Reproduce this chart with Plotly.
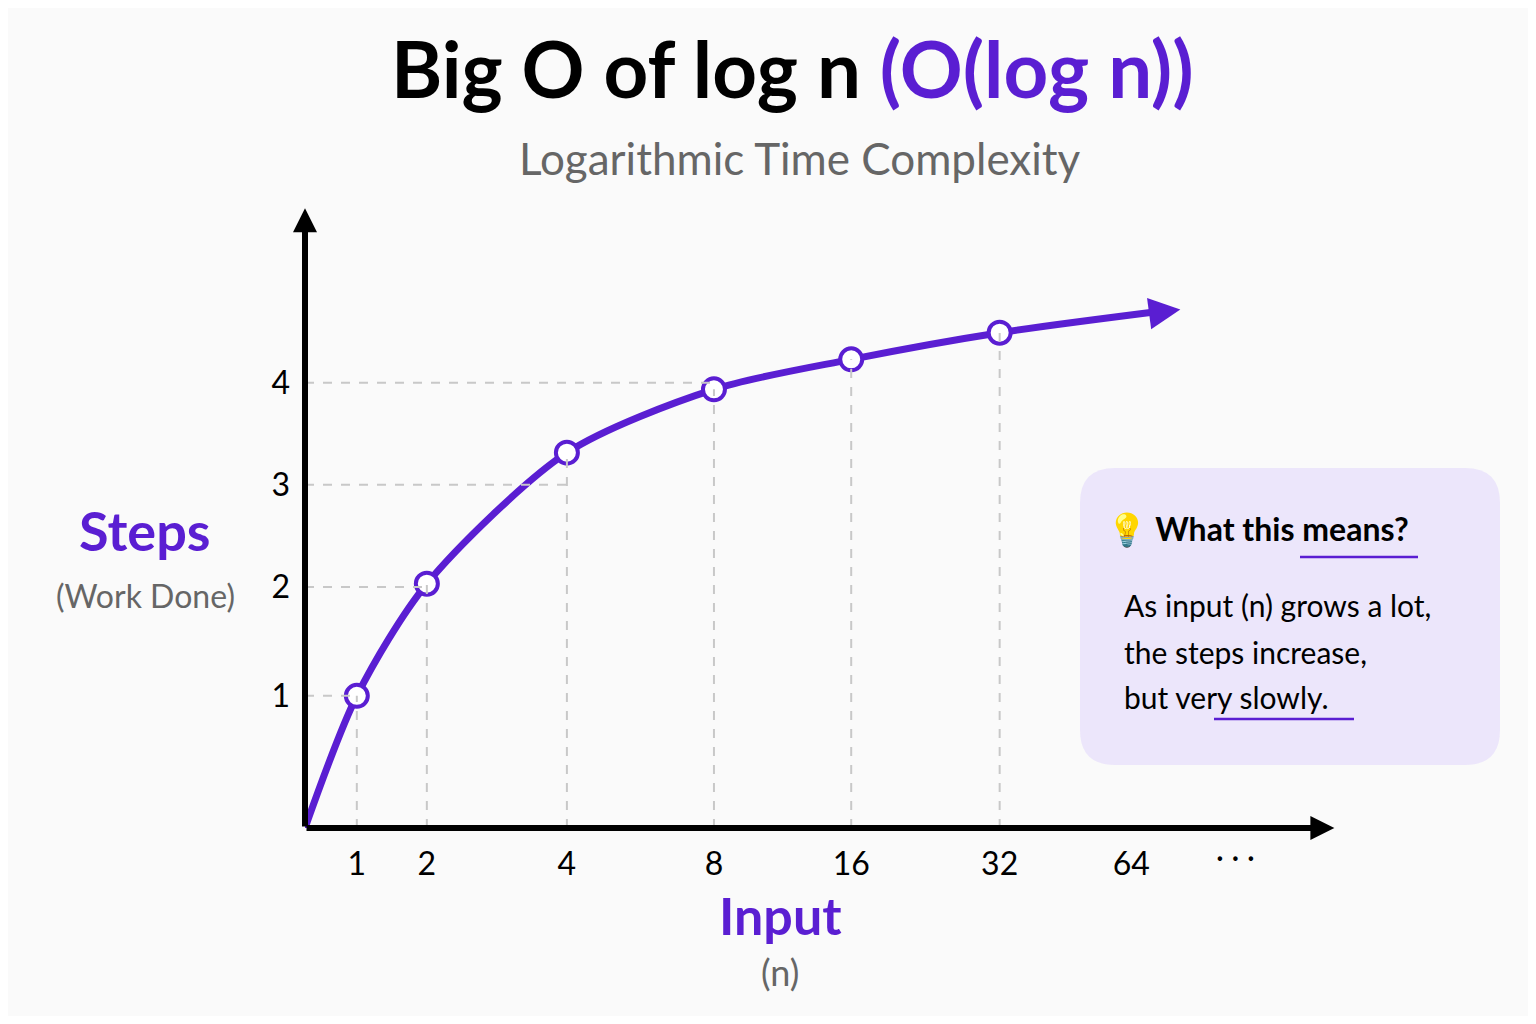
import plotly.graph_objects as go

# data
n_labels = ["1", "2", "4", "8", "16", "32", "64"]
x_pos = [0.37, 0.87, 1.87, 2.92, 3.90, 4.96, 5.90]      # axis positions of the n ticks
steps_y = [1.19, 2.20, 3.38, 3.95, 4.22, 4.46]           # point heights for n = 1..32
y_tick_vals = [1.19, 2.17, 3.09, 4.01]
y_tick_text = ["1", "2", "3", "4"]
curve_end = (6.25, 4.67)

PURPLE = "#5A1ED2"
OFF = 8
W, H = 1536 - 2 * OFF, 1024 - 2 * OFF
L, R, T, B = 305 - OFF, 196 - OFF, 205 - OFF, 196 - OFF
XR = [0, 7.39]
YR = [0, 5.61]

def px(x):
    return (x - OFF - L) / (W - L - R)
def py(y):
    return (H - B - (y - OFF)) / (H - T - B)

fig = go.Figure()

shapes = []
for i in range(6):
    shapes.append(dict(type="line", xref="x", yref="y", x0=x_pos[i], x1=x_pos[i], y0=0, y1=steps_y[i],
                       line=dict(color="#C8C8C8", width=2, dash="dash")))
h_ends = [x_pos[0], x_pos[1], x_pos[2], x_pos[3]]
for yv, xe in zip(y_tick_vals, h_ends):
    shapes.append(dict(type="line", xref="x", yref="y", x0=0, x1=xe, y0=yv, y1=yv,
                       line=dict(color="#C8C8C8", width=2, dash="dash")))
shapes.append(dict(type="path", xref="paper", yref="paper", layer="below", fillcolor="#ECE6FB", line=dict(width=0),
                   path=(f"M {px(1115)},{py(468)} L {px(1465)},{py(468)} Q {px(1500)},{py(468)} {px(1500)},{py(503)} "
                         f"L {px(1500)},{py(730)} Q {px(1500)},{py(765)} {px(1465)},{py(765)} "
                         f"L {px(1115)},{py(765)} Q {px(1080)},{py(765)} {px(1080)},{py(730)} "
                         f"L {px(1080)},{py(503)} Q {px(1080)},{py(468)} {px(1115)},{py(468)} Z")))
shapes.append(dict(type="line", xref="paper", yref="paper", x0=px(1300), x1=px(1418), y0=py(557), y1=py(557),
                   line=dict(color=PURPLE, width=2.5)))
shapes.append(dict(type="line", xref="paper", yref="paper", x0=px(1214), x1=px(1354), y0=py(719), y1=py(719),
                   line=dict(color=PURPLE, width=2.5)))

cx = [0] + x_pos[:6] + [curve_end[0] - 0.1]
cy = [0] + steps_y + [curve_end[1] - 0.01]
fig.add_trace(go.Scatter(x=cx, y=cy, mode="lines", line=dict(color=PURPLE, width=7, shape="spline", smoothing=0.8),
                         hoverinfo="skip"))
fig.add_trace(go.Scatter(x=x_pos[:6], y=steps_y, mode="markers",
                         marker=dict(size=22, color="white", line=dict(color=PURPLE, width=4))))

ann = []
ann.append(dict(x=7.35, y=0, ax=0, ay=0, xref="x", yref="y", axref="x", ayref="y", showarrow=True,
                arrowhead=2, arrowsize=0.8, arrowwidth=6, arrowcolor="black", text=""))
ann.append(dict(x=0, y=5.58, ax=0, ay=0, xref="x", yref="y", axref="x", ayref="y", showarrow=True,
                arrowhead=2, arrowsize=0.8, arrowwidth=6, arrowcolor="black", text=""))
ann.append(dict(x=curve_end[0], y=curve_end[1], ax=curve_end[0] - 0.12, ay=curve_end[1] - 0.02,
                xref="x", yref="y", axref="x", ayref="y", showarrow=True,
                arrowhead=2, arrowsize=0.9, arrowwidth=7, arrowcolor=PURPLE, text=""))

def txt(x, y, s, size, color="black", bold=False, xanchor="center"):
    ann.append(dict(x=px(x), y=py(y), xref="paper", yref="paper", text=f"<b>{s}</b>" if bold else s,
                    showarrow=False, font=dict(size=size, color=color), xanchor=xanchor, yanchor="middle"))

txt(792, 68, f"Big O of log n <span style='color:{PURPLE}'>(O(log n))</span>", 78, bold=True)
txt(800, 158, "Logarithmic Time Complexity", 44, "#666666")
txt(145, 530, "Steps", 54, PURPLE, True)
txt(145, 595, "(Work Done)", 32, "#666666")
txt(780, 915, "Input", 52, PURPLE, True)
txt(780, 972, "(n)", 36, "#666666")
txt(1235, 856, "· · ·", 30)
txt(1105, 528, "💡 <b>What this means?</b>", 32, xanchor="left")
txt(1122, 605, "As input (n) grows a lot,", 30, xanchor="left")
txt(1122, 652, "the steps increase,", 30, xanchor="left")
txt(1122, 697, "but very slowly.", 30, xanchor="left")

fig.update_layout(
    width=W, height=H, margin=dict(l=L, r=R, t=T, b=B),
    paper_bgcolor="#FAFAFA", plot_bgcolor="#FAFAFA", showlegend=False,
    font=dict(family="Lato, Noto Sans, sans-serif"),
    shapes=shapes, annotations=ann,
    xaxis=dict(range=XR, tickvals=x_pos, ticktext=n_labels, showgrid=False, zeroline=False, showline=False,
               tickfont=dict(size=32, color="black"), ticks="", ticklabelstandoff=14),
    yaxis=dict(range=YR, tickvals=y_tick_vals, ticktext=y_tick_text, showgrid=False, zeroline=False,
               showline=False, tickfont=dict(size=32, color="black"), ticks="", ticklabelstandoff=14),
)
fig.write_html("out.html")
